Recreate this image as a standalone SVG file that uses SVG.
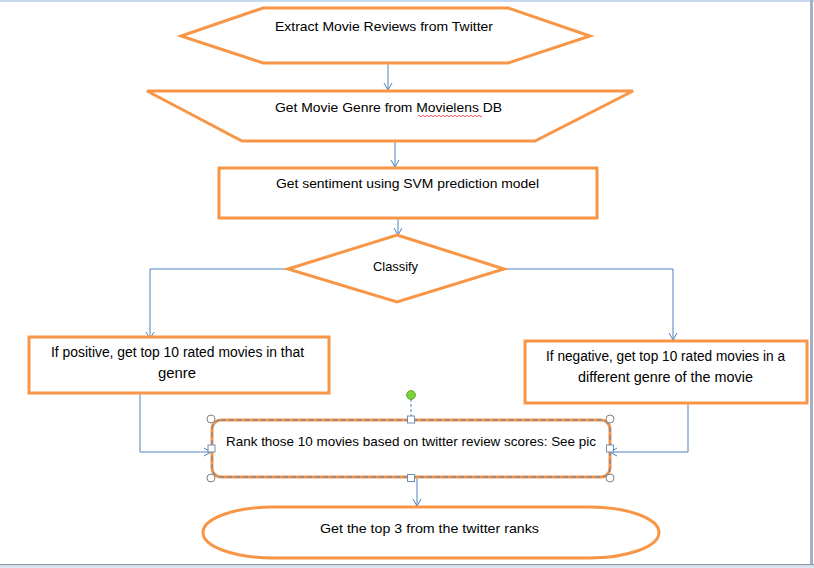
<svg xmlns="http://www.w3.org/2000/svg" width="814" height="568" viewBox="0 0 814 568">
<style>
.shape{fill:#fff;stroke:#F79646;stroke-width:3;stroke-linejoin:miter}
.conn{fill:none;stroke:#4F81BD;stroke-width:1}
.lbl{font-family:"Liberation Sans",Arial,sans-serif;font-size:13px;fill:#000;text-anchor:middle}
.lb2{font-size:14px}
.hc{fill:#fff;stroke:#808080;stroke-width:1}
.hs{fill:#fff;stroke:#6F8FB0;stroke-width:1}
</style>
<defs>
<marker id="arr" markerWidth="10" markerHeight="10" refX="8" refY="5" orient="auto" markerUnits="userSpaceOnUse">
<path d="M1,1 L8,5 L1,9" fill="none" stroke="#4F81BD" stroke-width="1"/>
</marker>
</defs>
<rect x="0" y="0" width="814" height="568" fill="#fff"/>
<g id="page">
<rect x="0" y="0" width="814" height="2" fill="#C6D9F1"/>
<rect x="810" y="0" width="3" height="565" fill="#A3B1C4"/>
<rect x="0" y="564" width="814" height="1.5" fill="#8A9AB0"/>
<rect x="0" y="565.5" width="814" height="2.5" fill="#DCE6F2"/>
</g>
<g id="connectors">
<path class="conn" d="M388,63 V90" marker-end="url(#arr)"/>
<path class="conn" d="M395,141 V167" marker-end="url(#arr)"/>
<path class="conn" d="M398,219 V235" marker-end="url(#arr)"/>
<path class="conn" d="M288,269 H150 V339" marker-end="url(#arr)"/>
<path class="conn" d="M504,269 H673 V340" marker-end="url(#arr)"/>
<path class="conn" d="M140,393 V452 H211" marker-end="url(#arr)"/>
<path class="conn" d="M688,403 V452 H610" marker-end="url(#arr)"/>
<path class="conn" d="M417,478 V506" marker-end="url(#arr)"/>
</g>
<g id="n1">
<polygon class="shape" points="263,8 508,8 590,36 508,63 263,63 181,36"/>
<text class="lbl" x="384" y="31" textLength="218" lengthAdjust="spacingAndGlyphs">Extract Movie Reviews from Twitter</text>
</g>
<g id="n2">
<polygon class="shape" points="147,91 633,91 535,141 242,141"/>
<text class="lbl" x="388.5" y="112" textLength="227" lengthAdjust="spacingAndGlyphs">Get Movie Genre from Movielens DB</text>
<path d="M418,116 q1,-1.5 2,0 t2,0 t2,0 t2,0 t2,0 t2,0 t2,0 t2,0 t2,0 t2,0 t2,0 t2,0 t2,0 t2,0 t2,0 t2,0 t2,0 t2,0 t2,0 t2,0 t2,0 t2,0 t2,0 t2,0 t2,0 t2,0 t2,0 t2,0 t2,0 t2,0 t2,0 t2,0" fill="none" stroke="#E03030" stroke-width="0.8"/>
</g>
<g id="n3">
<rect class="shape" x="219" y="168" width="378" height="50"/>
<text class="lbl" x="407.5" y="188" textLength="263" lengthAdjust="spacingAndGlyphs">Get sentiment using SVM prediction model</text>
</g>
<g id="n4">
<polygon class="shape" points="397,235 504,269 397,302 288,269"/>
<text class="lbl" x="395.5" y="271" textLength="45" lengthAdjust="spacingAndGlyphs">Classify</text>
</g>
<g id="n5">
<rect class="shape" x="29" y="337" width="300" height="56"/>
<text class="lbl lb2" x="177.5" y="357" textLength="253" lengthAdjust="spacingAndGlyphs">If positive, get top 10 rated movies in that</text>
<text class="lbl lb2" x="177" y="378" textLength="38" lengthAdjust="spacingAndGlyphs">genre</text>
</g>
<g id="n6">
<rect class="shape" x="525" y="341" width="282" height="62"/>
<text class="lbl lb2" x="665.5" y="361" textLength="239" lengthAdjust="spacingAndGlyphs">If negative, get top 10 rated movies in a</text>
<text class="lbl lb2" x="665.5" y="382" textLength="175" lengthAdjust="spacingAndGlyphs">different genre of the movie</text>
</g>
<g id="n7">
<rect class="shape" x="212" y="420" width="398" height="57" rx="9"/>
<rect x="212" y="420" width="398" height="57" rx="9" fill="none" stroke="#4F81BD" stroke-width="1" stroke-dasharray="5,3"/>
<text class="lbl" x="411" y="446" textLength="370" lengthAdjust="spacingAndGlyphs">Rank those 10 movies based on twitter review scores: See pic</text>
<line x1="411" y1="399" x2="411" y2="416" stroke="#4F81BD" stroke-width="1" stroke-dasharray="3,2"/>
<circle cx="411" cy="395" r="4.5" fill="#7CD03B" stroke="#5A9A2A" stroke-width="0.8"/>
<circle class="hc" cx="211" cy="419" r="4"/>
<circle class="hc" cx="610" cy="419" r="4"/>
<circle class="hc" cx="211" cy="478" r="4"/>
<circle class="hc" cx="610" cy="478" r="4"/>
<rect class="hs" x="407.5" y="416" width="7" height="7"/>
<rect class="hs" x="407.5" y="474.5" width="7" height="7"/>
<rect class="hs" x="208" y="445" width="7" height="7"/>
<rect class="hs" x="606.5" y="445" width="7" height="7"/>
</g>
<g id="n8">
<rect class="shape" x="203" y="507" width="456" height="51" rx="70" ry="25.5"/>
<text class="lbl" x="429.5" y="533" textLength="219" lengthAdjust="spacingAndGlyphs">Get the top 3 from the twitter ranks</text>
</g>
</svg>
